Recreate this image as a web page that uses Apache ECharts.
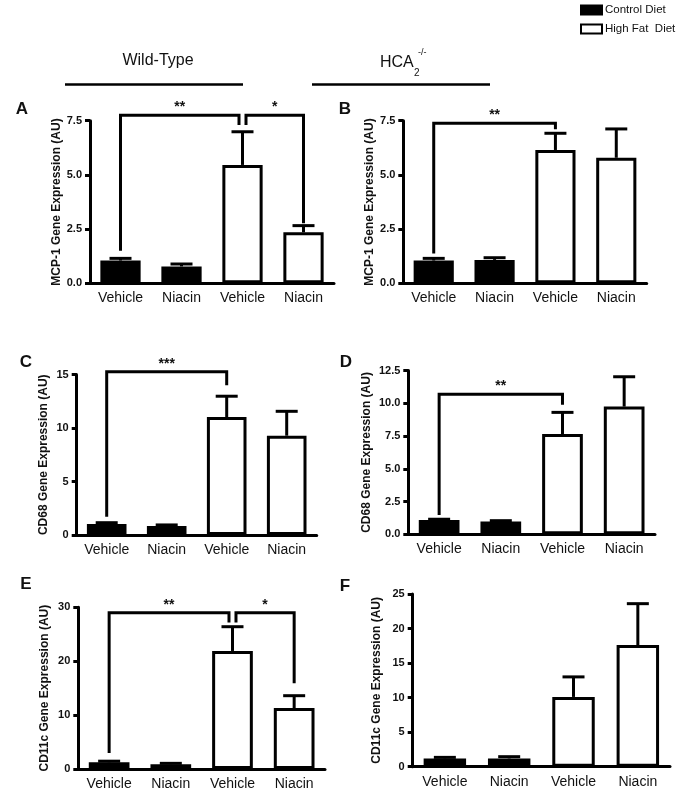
<!DOCTYPE html>
<html>
<head>
<meta charset="utf-8">
<script src="https://cdn.jsdelivr.net/npm/echarts@6/dist/echarts.min.js"></script>
<style>
html,body{margin:0;padding:0;background:#fff;}
#chart{width:680px;height:791px;}
</style>
</head>
<body>
<div id="chart"></div>
<script>
// ---------- data ----------
const categories = ['Vehicle', 'Niacin', 'Vehicle', 'Niacin'];
const seriesNames = ['Control Diet', 'High Fat  Diet'];
const panelLetters = ['A', 'B', 'C', 'D', 'E', 'F'];
const yTitles = ['MCP-1 Gene Expression (AU)', 'MCP-1 Gene Expression (AU)',
                 'CD68 Gene Expression (AU)', 'CD68 Gene Expression (AU)',
                 'CD11c Gene Expression (AU)', 'CD11c Gene Expression (AU)'];

// means and SEM (upper error) per panel, order: CD Vehicle, CD Niacin, HFD Vehicle, HFD Niacin
const meanA = [1.05, 0.78, 5.46, 2.35];
const semA  = [0.10, 0.11, 1.53, 0.31];
const meanB = [1.05, 1.08, 6.15, 5.79];
const semB  = [0.10, 0.10, 0.77, 1.33];
const meanC = [1.03, 0.84, 11.03, 9.28];
const semC  = [0.12, 0.10, 1.94, 2.28];
const meanD = [1.09, 0.97, 7.66, 9.75];
const semD  = [0.06, 0.07, 1.65, 2.28];
const meanE = [1.25, 0.90, 21.9, 11.3];
const semE  = [0.20, 0.15, 4.5, 2.3];
const meanF = [1.20, 1.20, 10.1, 17.6];
const semF  = [0.15, 0.25, 2.9, 6.0];

// y tick labels per panel
const ticksA = ['0.0', '2.5', '5.0', '7.5'];
const ticksB = ['0.0', '2.5', '5.0', '7.5'];
const ticksC = ['0', '5', '10', '15'];
const ticksD = ['0.0', '2.5', '5.0', '7.5', '10.0', '12.5'];
const ticksE = ['0', '10', '20', '30'];
const ticksF = ['0', '5', '10', '15', '20', '25'];

// significance brackets: [fromCategory, toCategory, top, fromLegEnd, toLegEnd, label]
const bracketsA = [[0, 2, 7.75, 1.5, 7.3, '**'], [2, 3, 7.75, 7.3, 2.77, '*']];
const bracketsB = [[0, 2, 7.38, 1.38, 7.1, '**']];
const bracketsC = [[0, 2, 15.26, 1.71, 14.0, '***']];
const bracketsD = [[0, 2, 10.69, 1.47, 9.9, '**']];
const bracketsE = [[0, 2, 29.0, 2.96, 27.2, '**'], [2, 3, 29.0, 27.2, 15.9, '*']];
const bracketsF = [];

const means = [meanA, meanB, meanC, meanD, meanE, meanF];
const sems = [semA, semB, semC, semD, semE, semF];
const ticks = [ticksA, ticksB, ticksC, ticksD, ticksE, ticksF];
const brackets = [bracketsA, bracketsB, bracketsC, bracketsD, bracketsE, bracketsF];

// ---------- layout ----------
const FONT = 'Liberation Sans, Arial, Helvetica, sans-serif';
const layout = [
  {left: 90,    top: 120.7, width: 244,   height: 162.6, nameGap: 25, letter: [22, 109]},
  {left: 403.3, top: 120.7, width: 243.4, height: 162.6, nameGap: 27, letter: [345, 109]},
  {left: 76.7,  top: 374.5, width: 240,   height: 160.5, nameGap: 27, letter: [26, 362]},
  {left: 408.3, top: 370.6, width: 246.7, height: 163.7, nameGap: 36, letter: [346, 362]},
  {left: 78.3,  top: 607.3, width: 246.7, height: 162,   nameGap: 28, letter: [26, 584]},
  {left: 412.7, top: 594,   width: 257.3, height: 172.7, nameGap: 30, letter: [345, 586]}
];

const grids = [], xAxes = [], yAxes = [], series = [], graphics = [];

layout.forEach((L, i) => {
  const tl = ticks[i];
  const tv = tl.map(parseFloat);
  grids.push({left: L.left, top: L.top, width: L.width, height: L.height, containLabel: false});
  xAxes.push({
    type: 'category', gridIndex: i, data: categories,
    axisLine: {lineStyle: {color: '#000', width: 3}},
    axisTick: {show: false},
    axisLabel: {fontSize: 14, color: '#111', margin: 8, fontFamily: FONT, interval: 0}
  });
  yAxes.push({
    type: 'value', gridIndex: i,
    min: tv[0], max: tv[tv.length - 1], interval: tv[1] - tv[0],
    splitLine: {show: false},
    axisLine: {show: true, lineStyle: {color: '#000', width: 3}},
    axisTick: {show: true, length: 5, lineStyle: {color: '#000', width: 3}},
    axisLabel: {
      fontSize: 11, fontWeight: 'bold', color: '#111', margin: 8, fontFamily: FONT,
      formatter: v => {
        const k = tv.findIndex(t => Math.abs(t - v) < 1e-9);
        return k >= 0 ? tl[k] : '';
      }
    },
    name: yTitles[i], nameLocation: 'middle', nameGap: L.nameGap,
    nameTextStyle: {fontSize: 12, fontWeight: 'bold', color: '#111', fontFamily: FONT}
  });

  const m = means[i], s = sems[i];
  series.push({
    name: seriesNames[0], type: 'bar', xAxisIndex: i, yAxisIndex: i,
    data: [m[0], m[1], '-', '-'], barWidth: '66%', barGap: '-100%',
    itemStyle: {color: '#000', borderColor: '#000', borderWidth: 3},
    emphasis: {disabled: true}, z: 2
  });
  series.push({
    name: seriesNames[1], type: 'bar', xAxisIndex: i, yAxisIndex: i,
    data: ['-', '-', m[2], m[3]], barWidth: '66%', barGap: '-100%',
    itemStyle: {color: '#fff', borderColor: '#000', borderWidth: 3},
    emphasis: {disabled: true}, z: 2
  });
  // error bars (upper only)
  series.push({
    type: 'custom', xAxisIndex: i, yAxisIndex: i, z: 4, clip: false,
    data: m.map((v, k) => [k, v, v + s[k]]),
    encode: {x: 0, y: [1, 2]},
    renderItem: (params, api) => {
      const p0 = api.coord([api.value(0), api.value(1)]);
      const p1 = api.coord([api.value(0), api.value(2)]);
      return {
        type: 'group', children: [
          {type: 'line', shape: {x1: p0[0], y1: p0[1], x2: p1[0], y2: p1[1]}, style: {stroke: '#000', lineWidth: 3}},
          {type: 'line', shape: {x1: p1[0] - 11, y1: p1[1], x2: p1[0] + 11, y2: p1[1]}, style: {stroke: '#000', lineWidth: 3}}
        ]
      };
    }
  });
  // significance brackets
  const br = brackets[i];
  if (br.length) {
    const data = br.map(b => {
      const sf = br.some(o => o !== b && o[1] === b[0]) ? 3.5 : 0;
      const st = br.some(o => o !== b && o[0] === b[1]) ? -3.5 : 0;
      return [b[0], b[1], b[2], b[3], b[4], sf, st];
    });
    series.push({
      type: 'custom', xAxisIndex: i, yAxisIndex: i, z: 5, clip: false,
      data: data,
      encode: {x: [0, 1], y: [2, 3, 4]},
      renderItem: (params, api) => {
        const from = api.value(0), to = api.value(1);
        const pL = api.coord([from, api.value(2)]);
        const pR = api.coord([to, api.value(2)]);
        const pLe = api.coord([from, api.value(3)]);
        const pRe = api.coord([to, api.value(4)]);
        const xl = pL[0] + api.value(5), xr = pR[0] + api.value(6), yt = pL[1];
        return {
          type: 'group', children: [
            {type: 'polyline', shape: {points: [[xl, pLe[1]], [xl, yt], [xr, yt], [xr, pRe[1]]]},
             style: {stroke: '#000', lineWidth: 3, fill: null}},
            {type: 'text', x: (xl + xr) / 2, y: yt - 8,
             style: {text: br[params.dataIndex][5], fontSize: 14, fontWeight: 'bold', fill: '#111',
                     align: 'center', verticalAlign: 'middle', fontFamily: FONT}}
          ]
        };
      }
    });
  }
  graphics.push({type: 'text', x: L.letter[0], y: L.letter[1],
    style: {text: panelLetters[i], fontSize: 17, fontWeight: 'bold', fill: '#111', fontFamily: FONT,
            align: 'center', verticalAlign: 'middle'}});
});

// headers
graphics.push({type: 'text', x: 158, y: 61,
  style: {text: 'Wild-Type', fontSize: 16, fill: '#111', fontFamily: FONT, align: 'center', verticalAlign: 'middle'}});
graphics.push({type: 'line', shape: {x1: 65, y1: 84.5, x2: 243, y2: 84.5}, style: {stroke: '#000', lineWidth: 2.5}});
graphics.push({type: 'text', x: 380, y: 63,
  style: {text: 'HCA', fontSize: 16, fill: '#111', fontFamily: FONT, align: 'left', verticalAlign: 'middle'}});
graphics.push({type: 'text', x: 414, y: 73,
  style: {text: '2', fontSize: 10, fill: '#111', fontFamily: FONT, align: 'left', verticalAlign: 'middle'}});
graphics.push({type: 'text', x: 418, y: 53,
  style: {text: '-/-', fontSize: 9, fill: '#111', fontFamily: FONT, align: 'left', verticalAlign: 'middle'}});
graphics.push({type: 'line', shape: {x1: 312, y1: 84.5, x2: 490, y2: 84.5}, style: {stroke: '#000', lineWidth: 2.5}});

const chart = echarts.init(document.getElementById('chart'), null, {renderer: 'canvas'});
chart.setOption({
  animation: false,
  backgroundColor: '#fff',
  legend: {
    data: seriesNames, orient: 'vertical', left: 580, top: 4, padding: 0,
    itemWidth: 21, itemHeight: 9, itemGap: 7, icon: 'rect',
    itemStyle: {borderWidth: 2},
    textStyle: {fontSize: 11.5, color: '#111', fontFamily: FONT, padding: [0, 0, 0, -2]},
    selectedMode: false
  },
  grid: grids, xAxis: xAxes, yAxis: yAxes, series: series, graphic: graphics
});
</script>
</body>
</html>
